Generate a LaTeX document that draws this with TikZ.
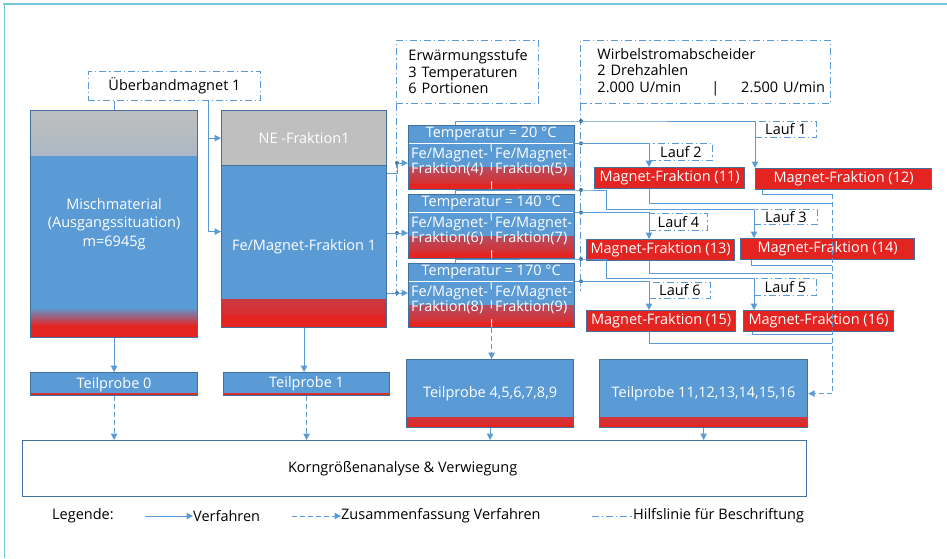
\documentclass[tikz,border=0pt]{standalone}
\usepackage{fontspec}
\setmainfont{Open Sans}
\usetikzlibrary{positioning,arrows.meta}

\definecolor{mblue}{HTML}{5B9BD5}
\definecolor{mborder}{HTML}{41719C}
\definecolor{mred}{HTML}{E42421}
\definecolor{mgray}{HTML}{BFBFBF}
\definecolor{mframe}{HTML}{72C7D9}

\tikzset{
  redfoot/.style 2 args={path picture={
      \shade[top color=mblue, bottom color=mred] ([yshift=#1]path picture bounding box.south west) rectangle ([yshift=#2]path picture bounding box.south east);
      \fill[mred] ([yshift=#2]path picture bounding box.south west) rectangle (path picture bounding box.south east);}},
}

\begin{document}
\begin{tikzpicture}[x=1pt, y=-1pt,
    font=\fontsize{14.5}{16.5}\selectfont,
    box/.style={draw=mborder, line width=1.2pt, fill=mblue, text=white, inner sep=0pt, anchor=north west, align=center},
    mfbox/.style={box, fill=mred, minimum height=21pt},
    helper/.style={draw=mblue, line width=0.9pt, dash pattern=on 7pt off 3pt on 1.2pt off 3pt},
    helpbox/.style={helper, inner sep=0pt, anchor=north west, align=left},
    laufbox/.style={helper, inner sep=0pt, anchor=north west},
    cell/.style={anchor=west, align=left, inner sep=0pt, text=white, font=\fontsize{14.5}{15.5}\selectfont},
    thead/.style={anchor=north west, inner sep=0pt, minimum width=166pt, minimum height=18pt, text=white},
    conn/.style={draw=mblue, line width=1pt},
    flow/.style={conn, -{Triangle[length=6.5pt, width=6.5pt]}},
    sumflow/.style={flow, dash pattern=on 5pt off 3pt},
    junc/.style={circle, fill=mborder, inner sep=0pt, minimum size=4pt},
]
\useasboundingbox (0,0) rectangle (947,558);
\draw[mframe, line width=2pt] (3,4) -- (947,4);
\draw[mframe, line width=0.8pt] (4,4) -- (4,558);

% Ausgangsmaterial und Ueberbandmagnet
\node[helpbox, align=center, minimum width=172pt, minimum height=29pt] (ueb) at (88,71) {Überbandmagnet 1};
\node[box, minimum width=167pt, minimum height=227pt, font=\fontsize{14.5}{18.5}\selectfont,
    path picture={
      \shade[top color=mgray, bottom color=mblue] (path picture bounding box.north west) rectangle ([yshift=-45pt]path picture bounding box.north east);
      \shade[top color=mblue, bottom color=mred] ([yshift=30pt]path picture bounding box.south west) rectangle ([yshift=12pt]path picture bounding box.south east);
      \fill[mred] ([yshift=12pt]path picture bounding box.south west) rectangle (path picture bounding box.south east);}]
    (misch) at (30,110) {Mischmaterial\\(Ausgangssituation)\\m=6945g};
\node[box, fill=mgray, minimum width=165pt, minimum height=55pt] (ne) at (221,110) {NE -Fraktion1};
\node[box, redfoot={28pt}{13pt}, minimum width=165pt, minimum height=162pt, below=-1.2pt of ne] (fe) {Fe/Magnet-Fraktion 1};
\node[box, redfoot={2.5pt}{0.6pt}, minimum width=167pt, minimum height=23pt, below=34pt of misch] (tp0) {Teilprobe 0};
\node[box, redfoot={2.5pt}{0.6pt}, minimum width=166pt, minimum height=23pt] (tp1) at (223,372) {Teilprobe 1};

% Erwaermungsstufe
\node[helpbox, text width=118pt, inner xsep=12pt, minimum height=63pt] (erw) at (396,40) {Erwärmungsstufe\\3 Temperaturen\\6 Portionen};
\draw[helper] (erw.south west) -- ++(0,194);
\node[junc] (jt1) at (397,163) {};
\node[junc] (jt2) at (397,233) {};
\node[junc] (jt3) at (397,293) {};

\node[box, redfoot={22pt}{6pt}, minimum width=166pt, minimum height=64pt] (t1) at (408,125) {};
\node[thead] (t1h) at (t1.north west) {Temperatur = 20 °C};
\node[cell] (t1a) at ([shift={(3pt,-37pt)}]t1.north west) {Fe/Magnet-\\Fraktion(4)};
\node[cell] (t1b) at ([shift={(87pt,-37pt)}]t1.north west) {Fe/Magnet-\\Fraktion(5)};
\node[box, redfoot={22pt}{6pt}, minimum width=166pt, minimum height=64pt] (t2) at (408,194) {};
\node[thead] (t2h) at (t2.north west) {Temperatur = 140 °C};
\node[cell] (t2a) at ([shift={(3pt,-37pt)}]t2.north west) {Fe/Magnet-\\Fraktion(6)};
\node[cell] (t2b) at ([shift={(87pt,-37pt)}]t2.north west) {Fe/Magnet-\\Fraktion(7)};
\node[box, redfoot={22pt}{6pt}, minimum width=166pt, minimum height=64pt] (t3) at (408,263) {};
\node[thead] (t3h) at (t3.north west) {Temperatur = 170 °C};
\node[cell] (t3a) at ([shift={(3pt,-37pt)}]t3.north west) {Fe/Magnet-\\Fraktion(8)};
\node[cell] (t3b) at ([shift={(87pt,-37pt)}]t3.north west) {Fe/Magnet-\\Fraktion(9)};
\foreach \t in {t1,t2,t3} {
  \draw[white, line width=1pt] ([xshift=1pt]\t h.south west) -- ([xshift=-1pt]\t h.south east);
  \draw[white, line width=1pt, dash pattern=on 8pt off 11pt] (\t h.south) -- ([yshift=1pt]\t.south);
}

% Wirbelstromabscheider
\node[helpbox, text width=216pt, inner xsep=17pt, minimum height=63pt] (wirb) at (580,40) {Wirbelstromabscheider\\2 Drehzahlen\\\makebox[216pt][l]{2.000 U/min\hspace{30pt}|\hspace{22pt}2.500 U/min}};
\draw[helper] (wirb.south west) -- ++(0,187);
\node[junc] (j1) at (581,121) {};
\node[junc] (j2) at (t1h.south east -| 581,0) {};
\node[junc] (j3) at (581,190) {};
\node[junc] (j4) at (t2h.south east -| 581,0) {};
\node[junc] (j5) at (581,259) {};
\node[junc] (j6) at (t3h.south east -| 581,0) {};

\node[mfbox, minimum width=150pt] (mf11) at (594,167) {Magnet-Fraktion (11)};
\node[mfbox, minimum width=176pt] (mf12) at (755,168) {Magnet-Fraktion (12)};
\node[mfbox, minimum width=148pt] (mf13) at (586,239) {Magnet-Fraktion (13)};
\node[mfbox, minimum width=174pt] (mf14) at (740,238) {Magnet-Fraktion (14)};
\node[mfbox, minimum width=149pt] (mf15) at (586,310) {Magnet-Fraktion (15)};
\node[mfbox, minimum width=150pt] (mf16) at (743,310) {Magnet-Fraktion (16)};

\node[laufbox, minimum width=61pt, minimum height=16pt] (lauf1) at (755,121) {Lauf 1};
\node[laufbox, minimum width=63pt, minimum height=17pt] (lauf2) at (649,143) {Lauf 2};
\node[laufbox, minimum width=63pt, minimum height=15pt] (lauf3) at (754,209) {Lauf 3};
\node[laufbox, minimum width=58pt, minimum height=17pt] (lauf4) at (649,213) {Lauf 4};
\node[laufbox, minimum width=62pt, minimum height=17pt] (lauf5) at (754,278) {Lauf 5};
\node[laufbox, minimum width=61pt, minimum height=16pt] (lauf6) at (649,282) {Lauf 6};

% Teilproben und Analyse
\node[box, redfoot={10pt}{3pt}, minimum width=167pt, minimum height=68pt] (tp45) at (406,359) {Teilprobe 4,5,6,7,8,9};
\node[box, redfoot={10pt}{3pt}, minimum width=208pt, minimum height=68pt] (tp11) at (599,359) {Teilprobe 11,12,13,14,15,16};
\node[box, fill=white, text=black, minimum width=784pt, minimum height=56pt] (korn) at (22,440) {\hspace*{-24pt}Korngrößenanalyse \& Verwiegung};

\coordinate (c11) at (832,203);
\coordinate (c12) at (832,194);
\coordinate (c13) at (832,273);
\coordinate (c14) at (832,265);
\coordinate (c15) at (832,343);
\coordinate (c16) at (832,334);

% Verbindungen
\draw[conn] (misch.north) -- (misch.north |- ueb.south);
\draw[flow] ([xshift=34pt]ueb.south) |- (ne.west);
\draw[flow] ([xshift=34pt]ueb.south) |- ([yshift=15pt]fe.west);
\draw[flow] ([yshift=-8pt]fe.north east) -| (jt1.center) -- (t1.west |- jt1.center);
\draw[flow] (fe.east |- jt2.center) -- (t2.west |- jt2.center);
\draw[flow] (fe.east |- jt3.center) -- (t3.west |- jt3.center);

\draw[flow] ([xshift=47pt]t1.north west) |- (j1.center) -| (mf12.north west);
\draw[flow] (t1h.south east) -- (j2.center) -| ([xshift=55pt]mf11.north west);
\draw[flow] ([xshift=47pt]t2.north west) |- (j3.center) -- ++(25,0) -- ++(0,19) -| ([xshift=14pt]mf14.north west);
\draw[flow] (t2h.south east) -- (j4.center) -| ([xshift=63pt]mf13.north west);
\draw[flow] ([xshift=47pt]t3.north west) |- (j5.center) -- ++(25,0) -- ++(0,19) -| ([xshift=11pt]mf16.north west);
\draw[flow] (t3h.south east) -- (j6.center) -| ([xshift=63pt]mf15.north west);

\draw[conn] ([xshift=55pt]mf11.south west) |- (c11);
\draw[conn] ([xshift=7pt]mf12.south west) |- (c12);
\draw[conn] ([xshift=63pt]mf13.south west) |- (c13);
\draw[conn] ([xshift=11pt]mf14.south west) |- (c14);
\draw[conn] ([xshift=63pt]mf15.south west) |- (c15);
\draw[conn] ([xshift=9pt]mf16.south west) |- (c16);
\draw[sumflow] (c12) |- (tp11.east);

\draw[flow] (misch.south) -- (tp0.north);
\draw[flow] (fe.south) -- (fe.south |- tp1.north);
\draw[sumflow] (t3.south) -- (t3.south |- tp45.north);
\draw[sumflow] (tp0.south) -- (tp0.south |- korn.north);
\draw[sumflow] (tp1.south) -- (tp1.south |- korn.north);
\draw[flow] (tp45.south) -- (tp45.south |- korn.north);
\draw[flow] (tp11.south) -- (tp11.south |- korn.north);

% Legende
\node[anchor=west, inner sep=0pt] (leg) at (52,516) {Legende:};
\coordinate (lg1) at (145,516);
\node[anchor=west, inner sep=0pt] (lgv) at (193,516) {Verfahren};
\draw[flow] (lg1) -- (lgv.west);
\coordinate (lg2) at (292,516);
\node[anchor=west, inner sep=0pt] (lgz) at (341,516) {Zusammenfassung Verfahren};
\draw[sumflow] (lg2) -- (lgz.west);
\coordinate (lg3) at (592,516);
\node[anchor=west, inner sep=0pt] (lgh) at (633,516) {Hilfslinie für Beschriftung};
\draw[helper] (lg3) -- (lgh.west);
\end{tikzpicture}
\end{document}
